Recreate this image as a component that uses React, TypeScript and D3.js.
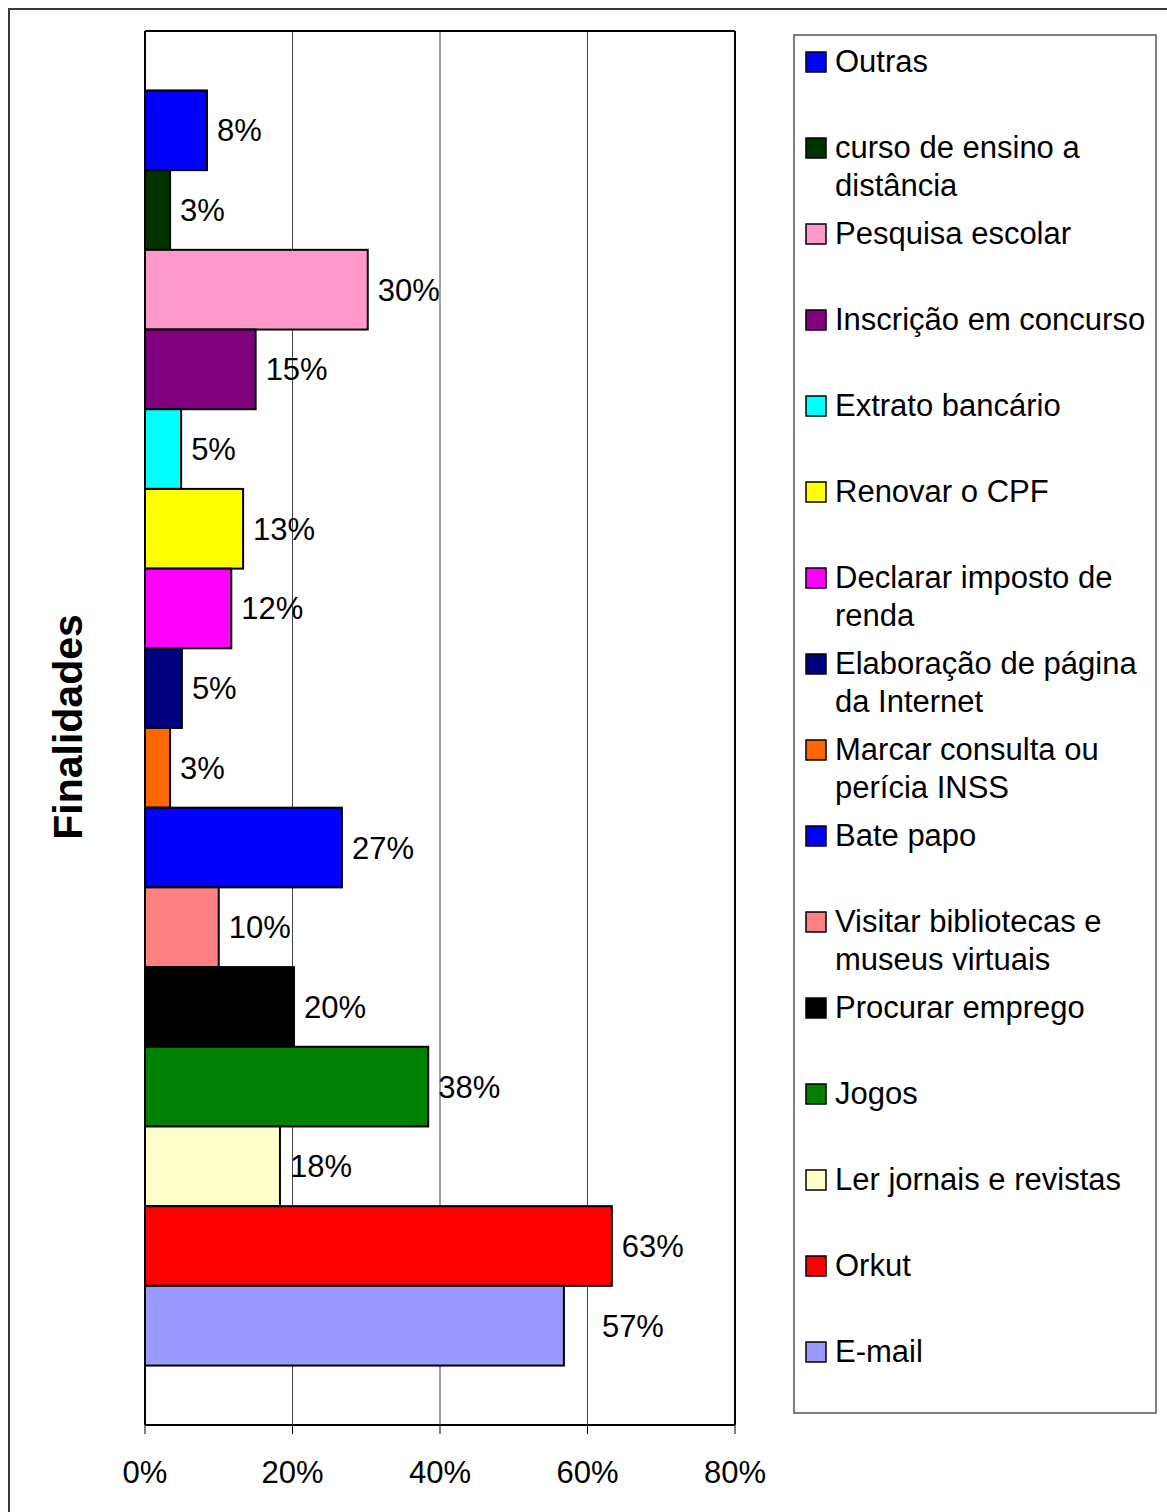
import React from "react";
import * as d3 from "d3";

const categories = [
  "Outras",
  "curso de ensino a distância",
  "Pesquisa escolar",
  "Inscrição em concurso",
  "Extrato bancário",
  "Renovar o CPF",
  "Declarar imposto de renda",
  "Elaboração de página da Internet",
  "Marcar consulta ou perícia INSS",
  "Bate papo",
  "Visitar bibliotecas e museus virtuais",
  "Procurar emprego",
  "Jogos",
  "Ler jornais e revistas",
  "Orkut",
  "E-mail",
];

const values = [
  0.084, 0.034, 0.302, 0.15, 0.049, 0.133, 0.117, 0.05, 0.034, 0.267, 0.1,
  0.202, 0.384, 0.183, 0.633, 0.568,
];

const valueLabels = [
  "8%", "3%", "30%", "15%", "5%", "13%", "12%", "5%", "3%", "27%", "10%",
  "20%", "38%", "18%", "63%", "57%",
];

const colors = [
  "#0000FF", "#003300", "#FF99CC", "#800080", "#00FFFF", "#FFFF00",
  "#FF00FF", "#000080", "#FF6600", "#0000FF", "#FF8080", "#000000",
  "#008000", "#FFFFCC", "#FF0000", "#9999FF",
];

const xTicks = [0, 0.2, 0.4, 0.6, 0.8];
const xTickLabels = ["0%", "20%", "40%", "60%", "80%"];
const axisTitle = "Finalidades";

const FONT = "'Liberation Sans', Arial, Helvetica, sans-serif";

function wrapText(text: string, maxWidth: number, font: string): string[] {
  let ctx: CanvasRenderingContext2D | null = null;
  try {
    ctx = document.createElement("canvas").getContext("2d");
  } catch (e) {
    ctx = null;
  }
  const measure = (s: string) => {
    if (ctx) {
      ctx.font = font;
      return ctx.measureText(s).width;
    }
    return s.length * 15;
  };
  const words = text.split(" ");
  const lines: string[] = [];
  let cur = "";
  for (const w of words) {
    const test = cur ? cur + " " + w : w;
    if (cur && measure(test) > maxWidth) {
      lines.push(cur);
      cur = w;
    } else {
      cur = test;
    }
  }
  if (cur) lines.push(cur);
  return lines;
}

export default function App() {
  const W = 1167;
  const H = 1512;
  const plot = { left: 145, right: 735, top: 31, bottom: 1425 };

  const x = d3.scaleLinear().domain([0, 0.8]).range([plot.left, plot.right]);
  const y = d3
    .scaleBand<string>()
    .domain(categories)
    .range([plot.top, plot.bottom])
    .paddingInner(0)
    .paddingOuter(0.746);

  const legend = { x: 794, y: 35, w: 362, h: 1378 };
  const entryStep = 86;
  const firstBaseline = 72;
  const fs = 31;
  const legendFont = `${fs}px ${FONT}`;

  return (
    <svg
      width={W}
      height={H}
      style={{ position: "absolute", left: 0, top: 0, background: "#fff" }}
      fontFamily={FONT}
    >
      <rect x={0} y={0} width={W} height={H} fill="#fff" />
      <rect
        x={9}
        y={9}
        width={W + 20}
        height={H + 20}
        fill="none"
        stroke="#3a3a3a"
        strokeWidth={2}
      />

      {/* gridlines */}
      {xTicks.slice(1, -1).map((t) => (
        <line
          key={"g" + t}
          x1={x(t)}
          x2={x(t)}
          y1={plot.top}
          y2={plot.bottom}
          stroke="#444"
          strokeWidth={1}
        />
      ))}

      {/* bars */}
      {categories.map((c, i) => (
        <rect
          key={"b" + i}
          x={x(0)}
          y={y(c)}
          width={x(values[i]) - x(0)}
          height={y.bandwidth()}
          fill={colors[i]}
          stroke="#000"
          strokeWidth={2}
        />
      ))}

      {/* plot frame */}
      <line x1={plot.left} x2={plot.right} y1={plot.top} y2={plot.top} stroke="#000" strokeWidth={2} />
      <line x1={plot.right} x2={plot.right} y1={plot.top} y2={plot.bottom} stroke="#000" strokeWidth={2} />
      <line x1={plot.left} x2={plot.left} y1={plot.top} y2={plot.bottom} stroke="#000" strokeWidth={2} />
      <line x1={plot.left} x2={plot.right} y1={plot.bottom} y2={plot.bottom} stroke="#000" strokeWidth={2} />

      {/* value labels */}
      {categories.map((c, i) => {
        const dx = c === "E-mail" ? 38 : 10;
        return (
          <text
            key={"l" + i}
            x={x(values[i]) + dx}
            y={(y(c) as number) + y.bandwidth() / 2 + 11}
            fontSize={fs}
            fill="#000"
          >
            {valueLabels[i]}
          </text>
        );
      })}

      {/* x axis ticks */}
      {xTicks.map((t, i) => (
        <g key={"t" + i}>
          <line x1={x(t)} x2={x(t)} y1={plot.bottom} y2={plot.bottom + 9} stroke="#000" strokeWidth={1} />
          <text x={x(t)} y={plot.bottom + 58} textAnchor="middle" fontSize={fs} fill="#000">
            {xTickLabels[i]}
          </text>
        </g>
      ))}

      {/* y axis title */}
      <text
        transform={`translate(82, 727) rotate(-90)`}
        textAnchor="middle"
        fontSize={41}
        fontWeight="bold"
        fill="#000"
      >
        {axisTitle}
      </text>

      {/* legend */}
      <rect
        x={legend.x}
        y={legend.y}
        width={legend.w}
        height={legend.h}
        fill="#fff"
        stroke="#555"
        strokeWidth={1.5}
      />
      {categories.map((c, i) => {
        const base = firstBaseline + i * entryStep;
        const lines = wrapText(c, 318, legendFont);
        return (
          <g key={"lg" + i}>
            <rect
              x={806}
              y={base - 20}
              width={20}
              height={20}
              fill={colors[i]}
              stroke="#000"
              strokeWidth={1.5}
            />
            <text x={835} y={base} fontSize={fs} fill="#000">
              {lines.map((ln, j) => (
                <tspan key={j} x={835} dy={j === 0 ? 0 : 38}>
                  {ln}
                </tspan>
              ))}
            </text>
          </g>
        );
      })}
    </svg>
  );
}
